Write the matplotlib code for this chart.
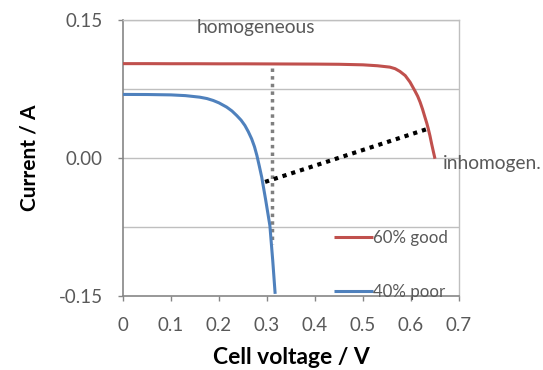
import matplotlib
matplotlib.use("Agg")
import matplotlib.pyplot as plt
from matplotlib.ticker import FixedLocator

plt.rcParams['font.family'] = ['Lato', 'DejaVu Sans']

# Data
good_v = [0.0, 0.05, 0.1, 0.15, 0.2, 0.25, 0.3, 0.35, 0.4, 0.45, 0.5, 0.53, 0.556, 0.567,
          0.577, 0.588, 0.598, 0.608, 0.614, 0.619, 0.624, 0.629, 0.633, 0.636, 0.6395,
          0.643, 0.6465, 0.65]
good_i = [0.1025, 0.1025, 0.1024, 0.1024, 0.1023, 0.1023, 0.1022, 0.1021, 0.1020, 0.1018,
          0.1012, 0.1002, 0.0987, 0.0970, 0.0940, 0.0895, 0.0824, 0.0730, 0.0670, 0.0606,
          0.0530, 0.0443, 0.0375, 0.0316, 0.0240, 0.0152, 0.0070, -0.001]

poor_v = [0.0, 0.05, 0.1, 0.13, 0.16, 0.175, 0.188, 0.2, 0.216, 0.227, 0.237, 0.246, 0.254,
          0.261, 0.268, 0.274, 0.279, 0.284, 0.289, 0.297, 0.306, 0.312, 0.317]
poor_i = [0.0690, 0.0689, 0.0685, 0.0677, 0.0660, 0.0645, 0.0624, 0.0598, 0.0552, 0.0510,
          0.0460, 0.0410, 0.0352, 0.0285, 0.0207, 0.0120, 0.0025, -0.0090, -0.0210, -0.0450,
          -0.0737, -0.1120, -0.1480]

homog_v = [0.311, 0.311]
homog_i = [0.098, -0.094]

inhom_v = [0.296, 0.635]
inhom_i = [-0.0262, 0.0316]

x_ticks = [0, 0.1, 0.2, 0.3, 0.4, 0.5, 0.6, 0.7]
x_labels = ['0', '0.1', '0.2', '0.3', '0.4', '0.5', '0.6', '0.7']
y_ticks = [-0.15, 0.0, 0.15]
y_labels = ['-0.15', '0.00', '0.15']
y_grid = [-0.075, 0.0, 0.075, 0.15]

red = '#C0504D'
blue = '#4F81BD'
txt = '#595959'

fig = plt.figure(figsize=(5.43, 3.70), dpi=100)
ax = fig.add_axes([0.2265, 0.2008, 0.8453 - 0.2265, 0.946 - 0.2008])

for g in y_grid:
    ax.axhline(g, color='#BFBFBF', lw=1.0, zorder=0)

ax.plot(homog_v, homog_i, color='#7F7F7F', lw=2.5, linestyle=(0, (1, 1.2)), zorder=2)
ax.plot(good_v, good_i, color=red, lw=2.2, label='60% good', zorder=3, solid_capstyle='butt')
ax.plot(poor_v, poor_i, color=blue, lw=2.2, label='40% poor', zorder=3, solid_capstyle='butt')
ax.plot(inhom_v, inhom_i, color='black', lw=3, linestyle=(0, (1, 1.2)), zorder=4)

ax.set_xlim(0, 0.7)
ax.set_ylim(-0.15, 0.15)
ax.xaxis.set_major_locator(FixedLocator(x_ticks))
ax.set_xticklabels(x_labels)
ax.yaxis.set_major_locator(FixedLocator(y_ticks))
ax.set_yticklabels(y_labels)

for s in ['left', 'bottom']:
    ax.spines[s].set_color('#868686')
    ax.spines[s].set_linewidth(1.2)
for s in ['top', 'right']:
    ax.spines[s].set_color('#BFBFBF')
    ax.spines[s].set_linewidth(1.0)

ax.tick_params(axis='both', direction='out', length=3.6, width=1, color='#868686',
               labelsize=13.5, labelcolor=txt)
ax.tick_params(axis='y', pad=11)
ax.tick_params(axis='x', pad=12)

ax.set_xlabel('Cell voltage / V', fontsize=16.5, fontweight='bold', color='black', labelpad=9)
ax.set_ylabel('Current / A', fontsize=15, fontweight='bold', color='black', labelpad=14)

ax.text(0.154, 0.1415, 'homogeneous', fontsize=13.8, color=txt, va='center', ha='left')
ax.text(0.667, -0.0065, 'inhomogen.', fontsize=13.8, color=txt, va='center', ha='left', clip_on=False)

leg = ax.legend(loc='lower right', bbox_to_anchor=(0.967, -0.017), frameon=False,
                fontsize=12.2, labelspacing=2.25, handlelength=2.3, handletextpad=0.0,
                borderaxespad=0, borderpad=0)
for t in leg.get_texts():
    t.set_color(txt)

fig.savefig('out.png', dpi=100)
